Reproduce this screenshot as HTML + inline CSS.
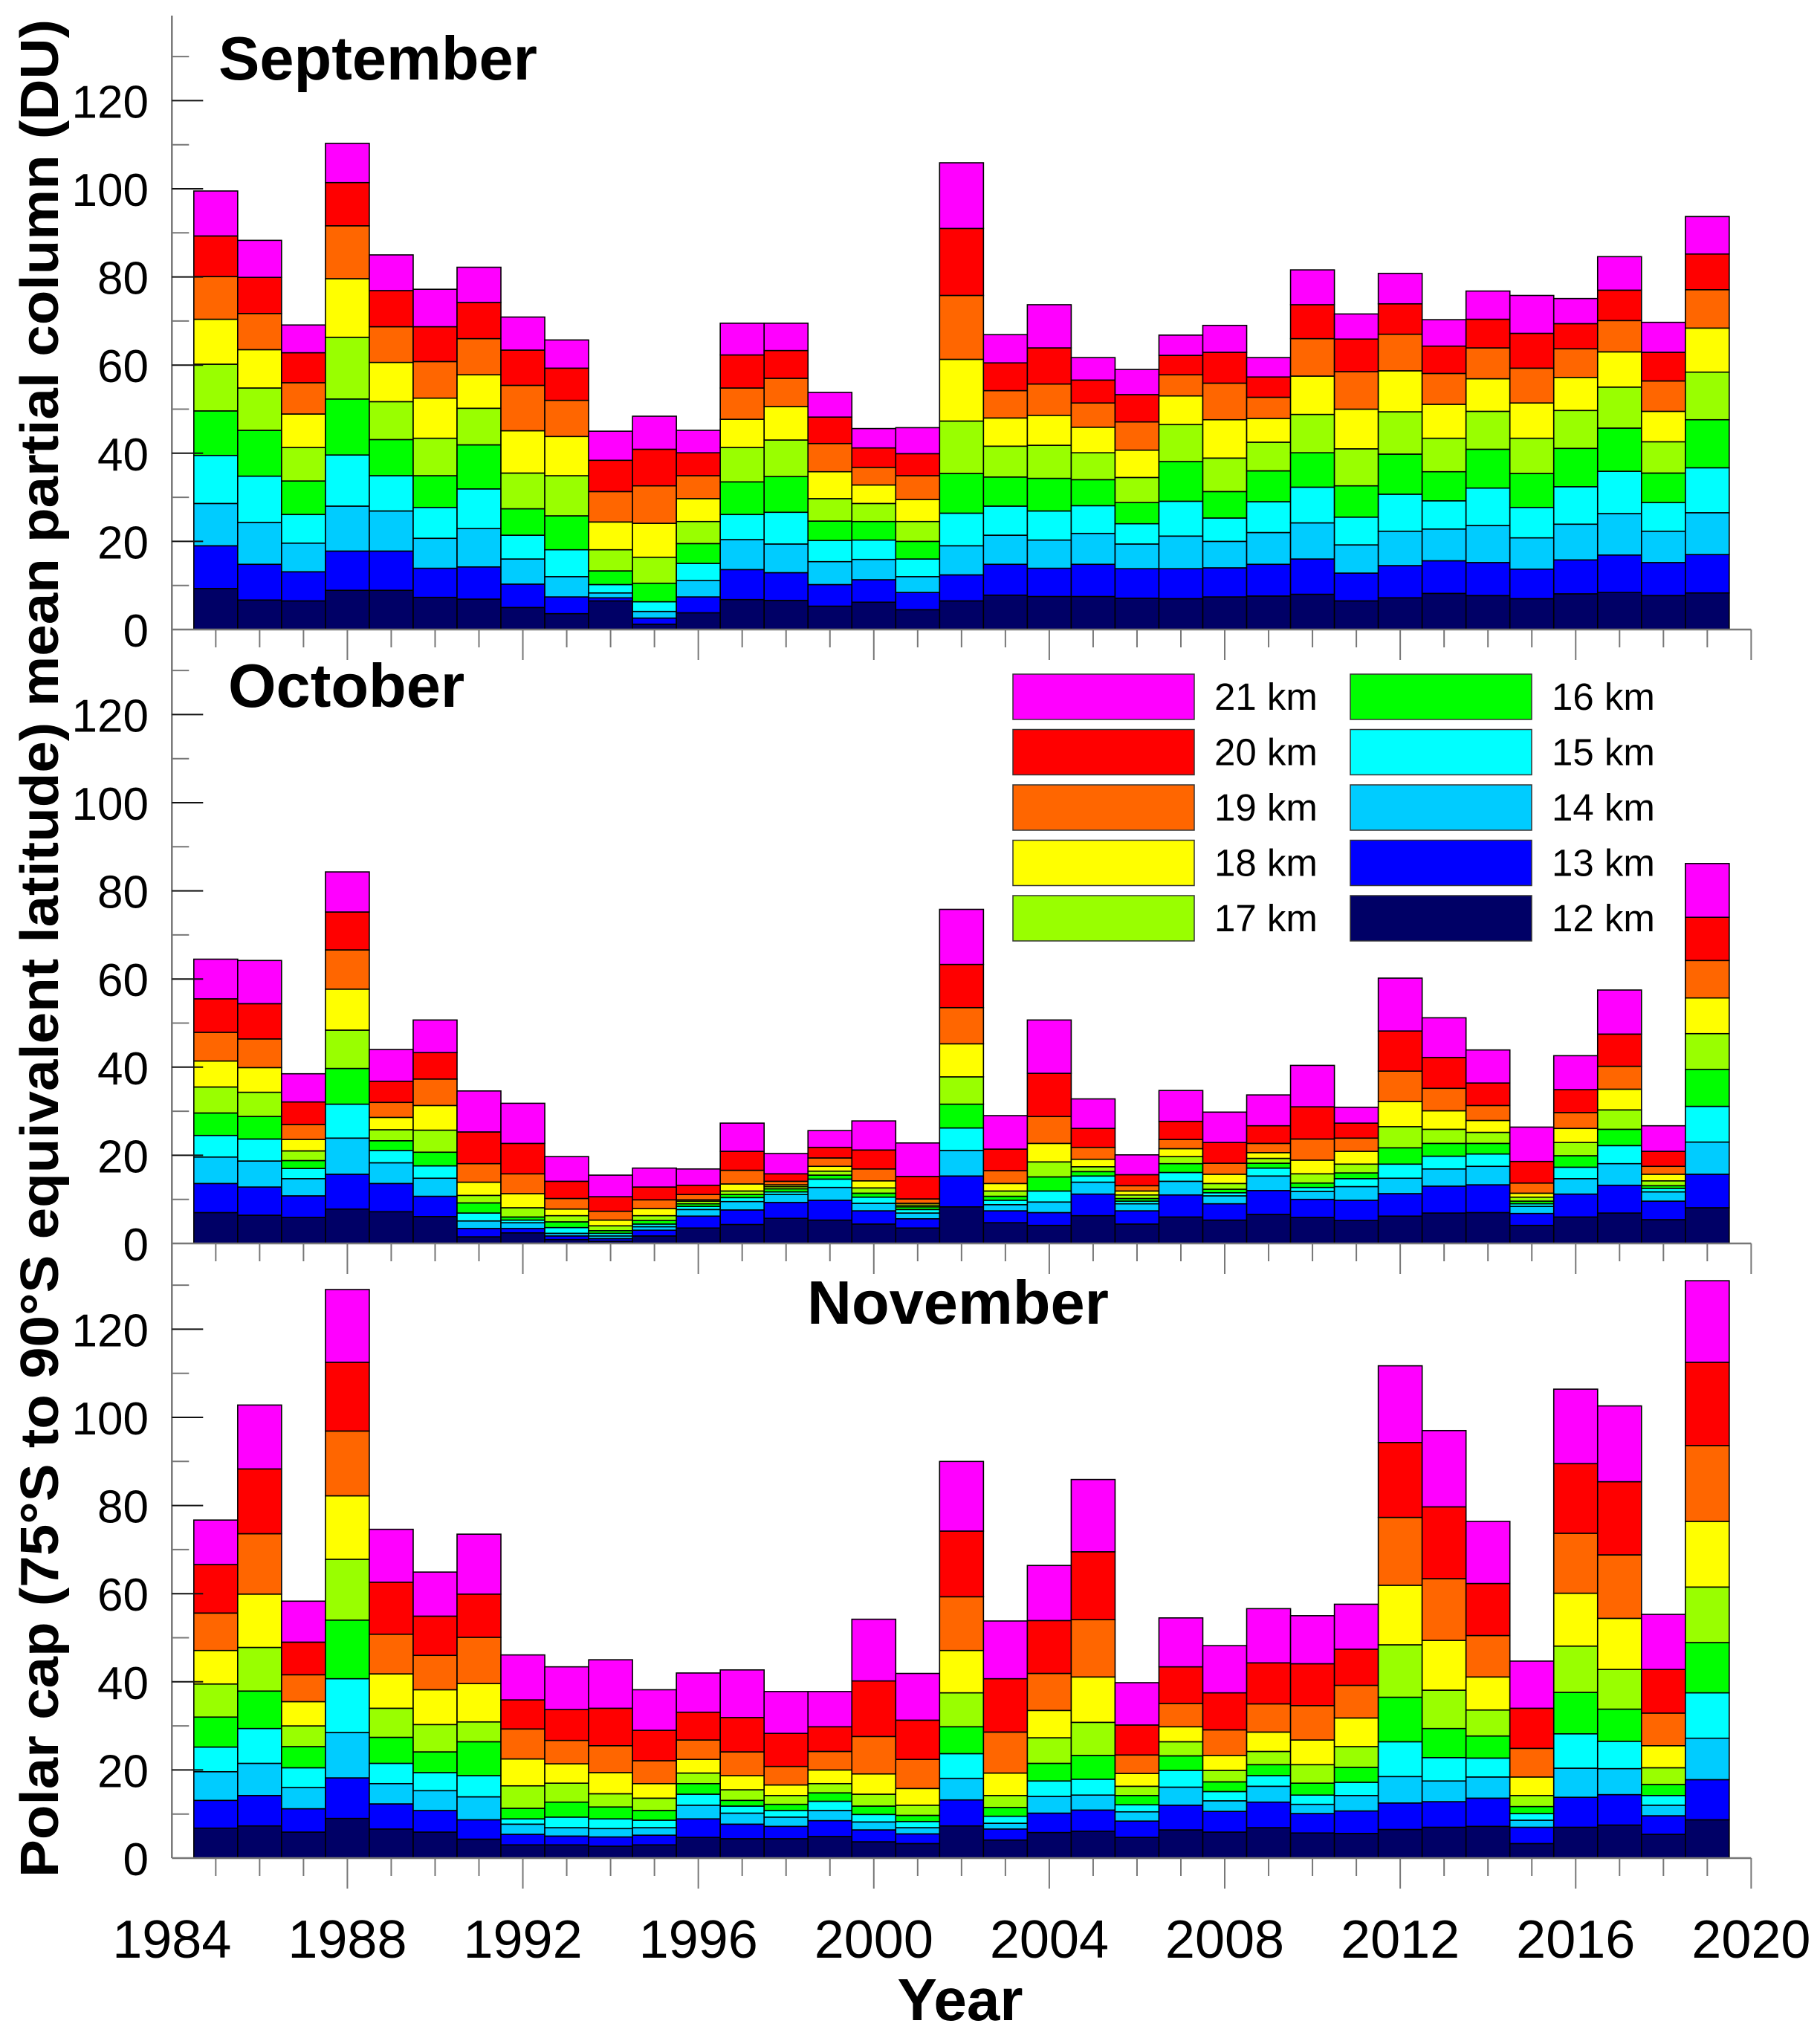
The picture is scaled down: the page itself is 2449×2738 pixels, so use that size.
<!DOCTYPE html>
<html><head><meta charset="utf-8"><style>body{margin:0;background:#fff}svg{display:block}</style></head>
<body>
<svg id="chart" width="2449" height="2738" viewBox="0 0 2449 2738" xmlns="http://www.w3.org/2000/svg" font-family="Liberation Sans, Arial, sans-serif"></svg>
<script>
const years = [1985,1986,1987,1988,1989,1990,1991,1992,1993,1994,1995,1996,1997,1998,1999,2000,2001,2002,2003,2004,2005,2006,2007,2008,2009,2010,2011,2012,2013,2014,2015,2016,2017,2018,2019];
const layerNames = ["12 km","13 km","14 km","15 km","16 km","17 km","18 km","19 km","20 km","21 km"];
const layerColors = ["#000066","#0000ff","#00ccff","#00ffff","#00ff00","#99ff00","#ffff00","#ff6600","#ff0000","#ff00ff"];
const yTicks = [0,20,40,60,80,100,120];
const xTicks = [1984,1988,1992,1996,2000,2004,2008,2012,2016,2020];
// cumulative partial column (DU) at top of each layer 12..21 km, one row per year
const sepData = [
[9.3,19.0,28.6,39.5,49.6,60.2,70.4,80.1,89.3,99.5],
[6.7,14.8,24.3,34.8,45.2,54.8,63.5,71.7,79.9,88.3],
[6.5,13.1,19.6,26.1,33.7,41.3,48.9,56.0,62.8,69.1],
[8.9,17.8,28.0,39.6,52.3,66.3,79.6,91.6,101.4,110.3],
[8.9,17.8,26.9,34.9,43.1,51.7,60.6,68.7,76.9,85.0],
[7.3,13.9,20.7,27.7,34.9,43.4,52.5,60.8,68.7,77.2],
[6.9,14.2,22.9,31.9,41.9,50.2,57.8,66.0,74.2,82.2],
[5.0,10.3,16.0,21.4,27.4,35.5,45.1,55.4,63.4,70.9],
[3.6,7.4,12.0,18.1,25.8,34.9,43.8,52.0,59.3,65.7],
[6.5,7.2,8.3,10.2,13.3,18.1,24.4,31.3,38.4,45.0],
[1.2,2.6,4.1,6.3,10.5,16.4,24.1,32.6,40.9,48.4],
[3.8,7.4,11.1,15.0,19.5,24.5,29.7,34.9,40.1,45.2],
[6.8,13.6,20.4,26.1,33.5,41.3,47.7,54.8,62.3,69.5],
[6.6,12.9,19.4,26.6,34.7,43.0,50.6,57.0,63.3,69.5],
[5.3,10.2,15.4,20.2,24.6,29.7,35.8,42.2,48.2,53.8],
[6.2,11.3,15.9,20.3,24.5,28.6,32.8,36.8,41.2,45.6],
[4.5,8.4,12.0,16.0,20.0,24.5,29.5,34.9,39.9,45.8],
[6.5,12.4,19.0,26.4,35.4,47.3,61.3,75.8,91.0,105.9],
[7.8,14.8,21.4,28.0,34.6,41.6,48.0,54.2,60.5,66.9],
[7.5,13.9,20.3,26.9,34.3,41.8,48.6,55.7,63.9,73.7],
[7.5,14.8,21.8,28.1,34.0,40.1,45.9,51.4,56.6,61.7],
[7.1,13.8,19.4,24.0,28.8,34.5,40.7,47.1,53.3,59.0],
[7.0,13.8,21.2,29.1,38.1,46.5,53.0,57.8,62.2,66.8],
[7.4,14.0,20.0,25.3,31.3,38.9,47.6,55.9,62.9,69.0],
[7.6,14.8,22.0,29.0,36.0,42.5,47.9,52.7,57.3,61.7],
[8.0,16.0,24.2,32.3,40.1,48.8,57.5,66.0,73.7,81.6],
[6.5,12.8,19.2,25.5,32.6,41.0,50.0,58.5,65.9,71.6],
[7.2,14.5,22.3,30.7,39.8,49.4,58.7,67.0,73.9,80.8],
[8.2,15.6,22.8,29.2,35.8,43.4,51.1,58.1,64.3,70.3],
[7.7,15.2,23.6,32.1,40.9,49.5,56.9,63.9,70.4,76.8],
[7.0,13.7,20.8,27.7,35.4,43.4,51.4,59.3,67.2,75.8],
[8.1,15.8,23.9,32.4,41.1,49.7,57.2,63.7,69.4,75.1],
[8.4,16.9,26.3,35.9,45.7,55.0,63.0,70.1,77.0,84.6],
[7.7,15.2,22.3,28.8,35.5,42.6,49.5,56.4,62.9,69.7],
[8.3,17.0,26.5,36.7,47.6,58.4,68.4,77.1,85.2,93.7]];
const octData = [
[7.0,13.6,19.6,24.5,29.6,35.5,41.4,47.9,55.5,64.5],
[6.4,12.8,18.7,23.7,28.8,34.3,39.9,46.4,54.4,64.2],
[5.9,10.8,14.7,17.0,18.8,21.0,23.6,27.0,32.1,38.5],
[7.8,15.7,23.9,31.6,39.7,48.4,57.7,66.6,75.2,84.3],
[7.2,13.6,18.3,21.1,23.3,25.8,28.6,32.0,36.8,44.0],
[6.1,10.7,14.8,17.6,20.7,25.7,31.3,37.3,43.3,50.7],
[1.5,3.4,5.1,6.9,9.2,10.9,13.9,18.1,25.3,34.6],
[2.4,3.4,4.7,5.3,6.0,8.1,11.3,15.8,22.7,31.8],
[0.9,1.7,2.3,3.6,4.9,6.3,7.8,10.2,14.1,19.7],
[0.5,1.1,1.7,2.3,2.9,4.0,5.3,7.3,10.6,15.5],
[1.7,3.0,3.8,4.4,5.2,6.3,7.9,9.9,12.8,17.1],
[3.5,6.2,7.7,8.4,9.0,9.6,9.9,11.1,13.2,16.9],
[4.3,7.6,9.5,10.4,11.1,11.9,13.5,16.6,20.9,27.3],
[5.7,9.3,11.1,11.7,12.4,12.9,13.3,14.1,15.8,20.4],
[5.3,9.8,12.7,14.6,15.5,16.4,17.5,19.4,21.8,25.6],
[4.4,7.4,9.1,10.5,11.4,12.6,14.2,16.9,21.2,27.8],
[3.5,5.6,6.9,7.7,8.3,8.7,9.1,10.1,15.2,22.8],
[8.3,15.3,21.1,26.2,31.6,37.8,45.3,53.5,63.3,75.8],
[4.7,7.4,8.8,9.8,10.7,11.9,13.6,16.5,21.4,29.0],
[4.1,7.0,9.4,11.9,15.1,18.5,22.7,28.8,38.6,50.7],
[6.3,11.2,13.9,15.3,16.3,17.4,19.1,21.8,26.1,32.8],
[4.4,7.4,9.0,9.6,10.2,11.0,11.9,13.1,15.6,20.1],
[6.0,11.0,14.1,16.1,18.1,19.7,21.5,23.6,27.7,34.7],
[5.3,9.0,10.8,11.5,12.3,13.6,15.7,18.2,22.9,29.8],
[6.6,12.0,15.3,17.1,18.2,19.3,20.6,22.7,26.7,33.7],
[5.9,10.0,11.8,12.7,13.7,15.8,18.9,23.7,31.0,40.4],
[5.2,9.8,12.9,14.7,16.0,18.0,20.9,23.9,27.3,30.9],
[6.2,11.3,14.8,18.0,21.7,26.5,32.2,39.1,48.2,60.2],
[6.9,13.0,16.9,19.8,22.7,25.9,30.1,35.2,42.2,51.2],
[7.0,13.3,17.5,20.3,22.7,25.2,27.9,31.3,36.4,43.9],
[4.1,6.8,8.4,9.0,9.6,10.5,11.4,13.7,18.6,26.4],
[6.0,11.2,14.7,17.3,19.9,22.9,26.1,29.7,34.9,42.6],
[6.9,13.2,18.1,22.2,25.9,30.3,35.0,40.2,47.5,57.5],
[5.4,9.6,11.7,12.5,13.1,14.2,15.7,17.5,20.9,26.7],
[8.1,15.7,23.0,31.1,39.5,47.6,55.7,64.2,74.0,86.2]];
const novData = [
[6.8,13.1,19.6,25.2,32.0,39.5,47.1,55.6,66.6,76.7],
[7.3,14.2,21.5,29.4,37.9,47.8,59.9,73.6,88.3,102.8],
[5.9,11.2,16.0,20.5,25.3,30.0,35.5,41.6,49.0,58.3],
[9.0,18.2,28.5,40.7,54.0,67.8,82.2,96.9,112.5,129.0],
[6.6,12.3,16.9,21.5,27.4,34.0,41.8,50.8,62.6,74.6],
[5.9,10.8,15.3,19.4,24.1,30.3,38.2,46.0,54.9,64.9],
[4.3,8.7,13.9,18.7,26.4,30.9,39.6,50.1,59.9,73.5],
[3.0,5.4,7.7,8.9,11.3,16.4,22.5,29.3,35.9,46.1],
[3.0,5.0,6.9,9.3,12.7,17.0,21.4,26.7,33.7,43.4],
[2.7,4.8,6.7,8.9,11.6,14.6,19.4,25.5,34.0,45.0],
[3.0,5.2,6.9,8.6,10.8,13.6,16.9,22.1,29.0,38.2],
[4.7,8.9,12.0,14.5,16.9,19.3,22.4,26.8,33.1,42.0],
[4.4,7.7,10.2,11.8,13.1,15.5,18.7,24.1,31.9,42.7],
[4.4,7.2,9.3,10.8,12.2,14.2,16.6,20.8,28.3,37.8],
[4.9,8.5,10.8,12.9,14.8,16.9,20.0,24.2,29.8,37.8],
[3.7,6.4,8.2,9.9,11.8,14.5,19.1,27.6,40.2,54.2],
[3.3,5.5,6.9,8.3,9.7,12.0,15.8,22.4,31.3,41.9],
[7.3,13.2,18.1,23.7,29.8,37.5,47.1,59.3,74.2,90.0],
[4.1,6.6,7.9,9.5,11.5,14.2,19.3,28.6,40.7,53.8],
[5.8,10.2,14.0,17.5,21.5,27.3,33.5,41.9,53.9,66.4],
[6.1,10.9,14.3,17.9,23.3,30.8,41.1,54.1,69.5,85.9],
[4.7,8.4,10.5,12.1,14.2,16.3,19.2,23.4,30.2,39.8],
[6.4,12.0,16.1,19.9,23.2,26.4,29.8,35.1,43.4,54.5],
[5.9,10.6,13.0,15.1,17.3,19.9,23.3,29.1,37.5,48.2],
[6.9,12.7,16.3,18.7,21.2,24.2,28.6,35.0,44.3,56.6],
[5.7,10.1,12.2,14.3,17.0,21.2,26.8,34.6,44.1,55.0],
[5.6,10.7,14.2,17.2,20.6,25.3,31.8,39.2,47.4,57.6],
[6.5,12.5,18.5,26.4,36.5,48.4,61.9,77.3,94.3,111.7],
[7.0,12.8,17.5,22.8,29.4,38.1,49.4,63.4,79.7,97.0],
[7.2,13.6,18.4,22.7,27.7,33.6,41.1,50.5,62.3,76.4],
[3.3,7.0,8.6,10.1,11.7,14.2,18.4,24.9,34.0,44.7],
[7.0,13.8,20.4,28.2,37.6,48.1,60.1,73.7,89.5,106.4],
[7.5,14.4,20.3,26.5,33.8,42.8,54.4,68.8,85.4,102.6],
[5.4,9.6,12.0,14.2,16.7,20.5,25.5,32.9,42.8,55.3],
[8.7,17.8,27.2,37.5,48.9,61.5,76.4,93.6,112.5,131.0]];
const panelTitles = ["September","October","November"];

const NS="http://www.w3.org/2000/svg";
const svg=document.getElementById('chart');
function mk(tag,attrs,parent){const e=document.createElementNS(NS,tag);for(const k in attrs)e.setAttribute(k,attrs[k]);(parent||svg).appendChild(e);return e;}
const X0=231.3, YR=59.03, DU=5.93;
function xs(y){return X0+(y-1984)*YR;}
const zeros=[847,1673,2500];
const titlePos=[[294,107],[307,951],[1086,1781]];
const datasets=[sepData,octData,novData];

const axis=mk('line',{x1:X0,y1:21,x2:X0,y2:2500,stroke:'#777',"stroke-width":2.5});



datasets.forEach((data,p)=>{
  const z=zeros[p];
  const ys=v=>z-v*DU;
  const g=mk('g',{});
  
  
  data.forEach((row,i)=>{
    const yr=years[i];
    row.forEach((top,k)=>{
      const bot=k===0?0:row[k-1];
      const r=mk('rect',{x:xs(yr-0.5),y:ys(top),width:YR,height:Math.max(0,(top-bot)*DU),fill:layerColors[k],stroke:'#000',"stroke-width":1.6},g);
      
      
    });
  });
  const xl=mk('line',{x1:X0,y1:z,x2:xs(2020),y2:z,stroke:'#777',"stroke-width":2.5},g);
  
  
  for(let yr=1985;yr<=2020;yr++){
    const major=xTicks.includes(yr);
    mk('line',{x1:xs(yr),y1:z,x2:xs(yr),y2:z+(major?41:24),stroke:'#777',"stroke-width":2},g);
  }
  for(let v=10;v<=130;v+=10){
    const major=yTicks.includes(v);
    mk('line',{x1:X0,y1:ys(v),x2:X0+(major?42:23),y2:ys(v),stroke:major?'#111':'#777',"stroke-width":2},g);
  }
  yTicks.forEach(v=>{
    const t=mk('text',{x:200,y:ys(v)+23,"text-anchor":"end","font-size":62,fill:'#000'},g);
    t.textContent=v;
    
    
  });
  const tt=mk('text',{x:titlePos[p][0],y:titlePos[p][1],"font-size":83,"font-weight":"bold",fill:'#000'},g);
  tt.textContent=panelTitles[p];
  
  
});

xTicks.forEach(yr=>{
  const t=mk('text',{x:xs(yr),y:2634,"text-anchor":"middle","font-size":72,fill:'#000'});
  t.textContent=yr;
  
  
});
const xt=mk('text',{x:1292,y:2718,"text-anchor":"middle","font-size":80,"font-weight":"bold",fill:'#000'});
xt.textContent='Year';


const yt=mk('text',{x:0,y:0,"text-anchor":"middle","font-size":72,"font-weight":"bold",fill:'#000',transform:'translate(78,1276) rotate(-90)',textLength:2500,lengthAdjust:'spacingAndGlyphs'});
yt.textContent='Polar cap (75°S to 90°S equivalent latitude) mean partial column (DU)';



const lg=mk('g',{});


for(let k=9;k>=0;k--){
  const idx=9-k, col=idx<5?0:1, row=idx%5;
  const bx=col===0?1363:1817, by=907+row*74.5;
  const e=mk('g',{},lg);
  
  
  mk('rect',{x:bx,y:by,width:244,height:61,fill:layerColors[k],stroke:'#333',"stroke-width":1.5},e);
  const t=mk('text',{x:bx+271,y:by+48,"font-size":51,fill:'#000'},e);
  t.textContent=layerNames[k];
}
</script>
</body></html>
